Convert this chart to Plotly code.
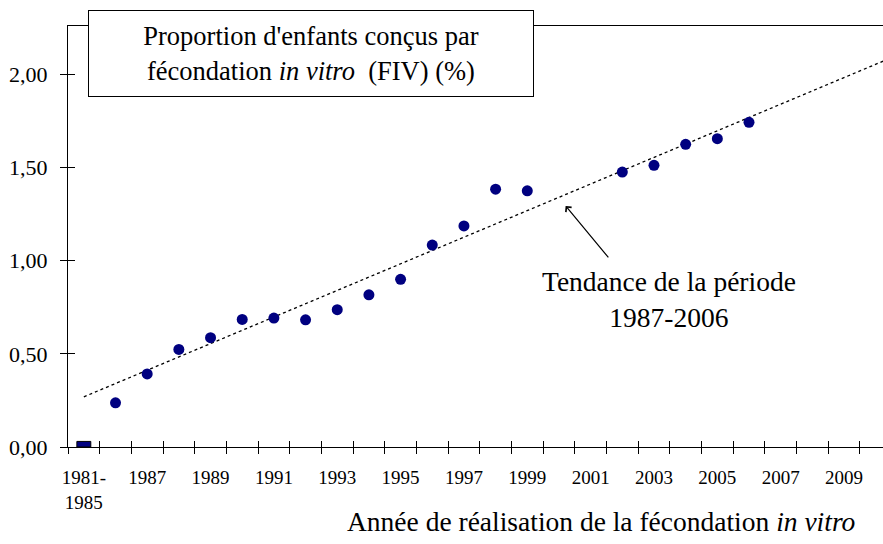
import numpy as np
import plotly.graph_objects as go

# ---------------- data ----------------
period_label = "1981-1985"
period_value = 0.03
years = [1986, 1987, 1988, 1989, 1990, 1991, 1992, 1993, 1994, 1995,
         1996, 1997, 1998, 1999, 2002, 2003, 2004, 2005, 2006]
values = [0.237, 0.392, 0.524, 0.587, 0.685, 0.692, 0.683, 0.737, 0.817, 0.900,
          1.084, 1.187, 1.384, 1.375, 1.476, 1.512, 1.625, 1.655, 1.743]
trend_start, trend_end = 1987, 2006
last_category_year = 2010
tick_years = list(range(1987, 2010, 2))
y_ticks = [0, 0.5, 1.0, 1.5, 2.0]

FONT = "Liberation Serif"
NAVY = "#000080"

# category index: 0 = 1981-1985, then one per year
base = 1985
x_pos = [y - base for y in years]
tick_pos = [0] + [y - base for y in tick_years]
tick_text = ["1981-<br>1985"] + [str(y) for y in tick_years]
boundaries = [i - 0.5 for i in range(0, last_category_year - base + 1)]

x_min, x_max = -0.5, 25.23
y_min, y_max = 0, 2.26

# linear trend on 1987-2006
xs = np.array([p for p, y in zip(x_pos, years) if trend_start <= y <= trend_end])
vs = np.array([v for v, y in zip(values, years) if trend_start <= y <= trend_end])
slope, intercept = np.polyfit(xs, vs, 1)
trend_x = [0, x_max]
trend_y = [intercept + slope * t for t in trend_x]

fig = go.Figure()
fig.add_trace(go.Bar(x=[0], y=[period_value], width=0.44, name=period_label,
                     marker=dict(color=NAVY, line=dict(color="black", width=1)),
                     showlegend=False))
fig.add_trace(go.Scatter(x=trend_x, y=trend_y, mode="lines",
                         line=dict(color="black", width=1.3, dash="dot"),
                         showlegend=False, hoverinfo="skip"))
fig.add_trace(go.Scatter(x=x_pos, y=values, mode="markers",
                         marker=dict(color=NAVY, size=11),
                         showlegend=False))
# helper trace for the overlay axes (tick marks crossing the axis lines)
fig.add_trace(go.Scatter(x=[None], y=[None], xaxis="x2", yaxis="y2",
                         showlegend=False, hoverinfo="skip"))

fig.update_layout(
    width=883, height=544,
    margin=dict(l=68, r=0, t=26, b=97, autoexpand=False),
    paper_bgcolor="white", plot_bgcolor="white",
    separators=", ",
    font=dict(family=FONT, color="black"),
    xaxis=dict(range=[x_min, x_max], tickvals=tick_pos, ticktext=tick_text,
               ticks="", showgrid=False, zeroline=False, automargin=False,
               showline=True, linecolor="black", linewidth=1.3, mirror=True,
               tickfont=dict(size=19, family=FONT), ticklabelstandoff=13,
               minor=dict(tickvals=boundaries, ticks="outside", ticklen=6,
                          tickcolor="black", tickwidth=1.3, showgrid=False)),
    xaxis2=dict(range=[x_min, x_max], overlaying="x", anchor="y2", side="bottom",
                tickvals=boundaries, ticks="inside", ticklen=6, tickcolor="black",
                tickwidth=1.3, showticklabels=False, showgrid=False,
                zeroline=False, showline=False, automargin=False),
    yaxis=dict(range=[y_min, y_max], tickvals=y_ticks, tickformat=".2f",
               ticks="outside", ticklen=7, tickcolor="black", tickwidth=1.3,
               showgrid=False, zeroline=False, showline=True, automargin=False,
               linecolor="black", linewidth=1.3,
               tickfont=dict(size=22, family=FONT), ticklabelstandoff=8),
    yaxis2=dict(range=[y_min, y_max], overlaying="y", anchor="x", side="left",
                tickvals=y_ticks, ticks="inside", ticklen=7, tickcolor="black",
                tickwidth=1.3, showticklabels=False, showgrid=False,
                zeroline=False, showline=False, automargin=False),
)

# title box
fig.add_annotation(
    xref="paper", yref="paper", x=(88 - 68) / 815, y=(447 - 10) / 421,
    xanchor="left", yanchor="top", showarrow=False,
    text="Proportion d'enfants conçus par<br>fécondation <i>in vitro</i>\u00a0 (FIV) (%)",
    font=dict(size=26.5, family=FONT), align="center", valign="middle",
    width=444, height=85, bgcolor="white", bordercolor="black",
    borderwidth=1, borderpad=0,
)

# x axis title
fig.add_annotation(
    xref="paper", yref="paper", x=(601 - 68) / 815, y=(447 - 521) / 421,
    xanchor="center", yanchor="middle", showarrow=False,
    text="Année de réalisation de la fécondation <i>in vitro</i>",
    font=dict(size=27.5, family=FONT),
)

# trend label + arrow
fig.add_annotation(
    x=18.47, y=0.79, xref="x", yref="y", showarrow=False,
    text="Tendance de la période<br>1987-2006",
    font=dict(size=27.5, family=FONT), align="center",
)
fig.add_annotation(
    x=15.21, y=1.294, xref="x", yref="y", ax=44, ay=53, text="",
    showarrow=True, arrowhead=4, arrowsize=1.2, arrowwidth=1.2,
    arrowcolor="black",
)

fig.write_html("out.html", config={"displayModeBar": False},
               post_script="document.body.style.margin='0';")
